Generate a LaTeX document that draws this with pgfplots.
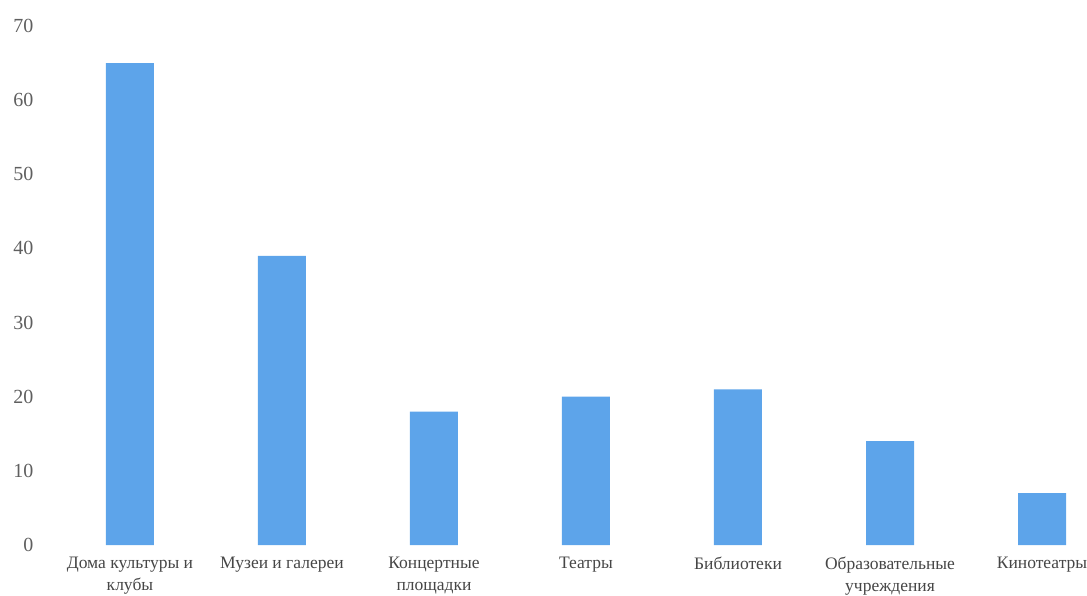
\documentclass[border=0pt]{standalone}
\usepackage{pgfplots}
\pgfplotsset{compat=1.18}
\usepackage{fontspec}
\setmainfont{Liberation Serif}
\definecolor{barblue}{RGB}{93,164,234}
\definecolor{labgray}{RGB}{70,70,70}
\definecolor{tickgray}{RGB}{95,95,95}
\begin{document}
\begin{tikzpicture}[x=1pt,y=1pt]
\path[use as bounding box] (0,0) rectangle (1087,595);
\begin{axis}[
  at={(50pt,50pt)}, anchor=south west,
  scale only axis,
  width=1037pt, height=519pt,
  xmin=-0.526, xmax=6.296,
  ymin=0, ymax=70,
  ytick={0,10,...,70},
  xtick={0,...,6},
  xticklabels={{Дома культуры и\\клубы},{Музеи и галереи},{Концертные\\площадки},{Театры},{Библиотеки},{Образовательные\\учреждения},{Кинотеатры}},
  xticklabel style={align=center, font=\fontsize{17.5}{22}\selectfont, text=labgray, anchor=north, yshift=-4pt},
  yticklabel style={font=\fontsize{20}{22}\selectfont, text=tickgray, anchor=east, xshift=-13pt},
  /pgf/number format/assume math mode=true,
  axis line style={draw=none},
  major tick style={draw=none},
  ybar, bar width=48pt,
]
\addplot[fill=barblue, draw=none] coordinates {(0,65) (1,39) (2,18) (3,20) (4,21) (5,14) (6,7)};
\end{axis}
\end{tikzpicture}
\end{document}
